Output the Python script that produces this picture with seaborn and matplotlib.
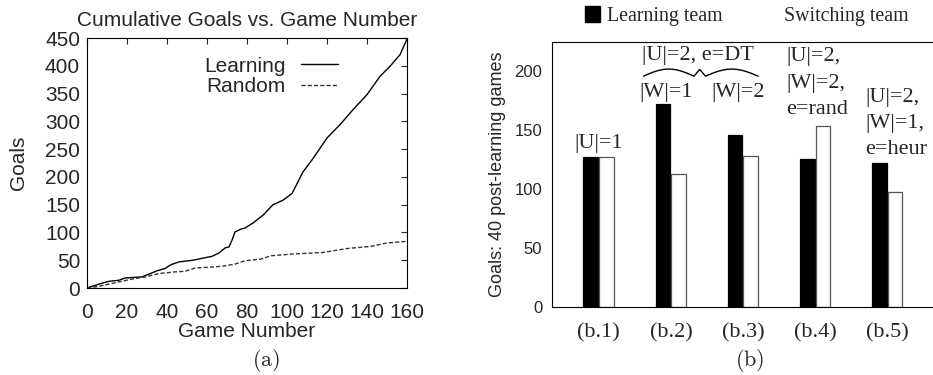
import numpy as np
import pandas as pd
import seaborn as sns
from matplotlib import pyplot as plt
from matplotlib.patches import Patch

# (a) cumulative goals
learn_games = [0, 6, 11, 16, 19, 27.5, 31, 35, 39, 42, 46, 53, 57, 62.5, 66, 69, 71,
               72.5, 74, 77, 79, 83, 88, 93, 98, 102.5, 108, 113, 120, 126.5, 133,
               140, 146.5, 151.5, 156.5, 160]
learn_goals = [0, 7, 12, 14, 18, 20, 25, 31, 35, 42, 47, 50, 53, 57, 63, 72, 74,
               86, 101, 106, 108, 117, 131, 150, 158, 170, 209, 233, 270, 294, 321,
               348, 381, 399, 420, 448]
rand_games = [0, 6, 16, 22.5, 29, 36, 44, 49, 54, 64, 69, 74, 79, 87, 92, 102, 118,
              130, 142, 150, 160]
rand_goals = [0, 3, 11, 16, 20, 26, 29, 30, 36, 38, 40, 43, 49, 52, 58, 61, 64,
              71, 75, 81, 84]

# (b) goals in 40 post-learning games
cases = ['(b.1)', '(b.2)', '(b.3)', '(b.4)', '(b.5)']
learning_team = [127, 172, 146, 126, 122]
switching_team = [127, 113, 128, 154, 98]

sns.set_style('white')
plt.rcParams['font.family'] = ['Liberation Sans', 'DejaVu Sans']
plt.rcParams['mathtext.fontset'] = 'cm'
serif = ['Liberation Serif', 'DejaVu Serif']

fig = plt.figure(figsize=(9.33, 3.75), dpi=100)

# ---- left panel
ax1 = fig.add_axes([87 / 933, 1 - 288 / 375, 320 / 933, 250 / 375])
sns.lineplot(x=learn_games, y=learn_goals, ax=ax1, color='black', lw=1, label='Learning')
sns.lineplot(x=rand_games, y=rand_goals, ax=ax1, color='#333333', lw=1,
             dashes=False, label='Random')
ax1.lines[1].set_linestyle((0, (3, 1.5)))
ax1.set_xlim(0, 160)
ax1.set_ylim(0, 450)
ax1.set_xticks(np.arange(0, 161, 20))
ax1.set_yticks(np.arange(0, 451, 50))
ax1.tick_params(direction='in', length=4, width=0.8, top=True, right=True,
                labelsize=15, pad=5)
ax1.tick_params(axis='x', pad=11)
for s in ax1.spines.values():
    s.set_color('black')
    s.set_linewidth(0.8)
ax1.set_title('Cumulative Goals vs. Game Number', fontsize=15, pad=9)
ax1.set_xlabel('Game Number', fontsize=15, labelpad=0)
ax1.set_ylabel('Goals', fontsize=15)
ax1.yaxis.set_label_coords(-0.185, 0.5)
ax1.legend(loc='upper right', bbox_to_anchor=(0.784, 0.925), frameon=False,
           markerfirst=False, fontsize=15, handlelength=1.75,
           handletextpad=0.75, labelspacing=0.05, borderpad=0, borderaxespad=0)
fig.text(266 / 933, 1 - 361 / 375, r'$\mathrm{(a)}$', fontsize=16,
         ha='center', va='center')

# ---- right panel
df = pd.DataFrame({
    'case': cases * 2,
    'team': ['Learning team'] * len(cases) + ['Switching team'] * len(cases),
    'goals': learning_team + switching_team,
})
ax2 = fig.add_axes([552 / 933, 1 - 307 / 375, 1 - 552 / 933 + 0.001, 265 / 375])
sns.barplot(data=df, x='case', y='goals', hue='team', ax=ax2,
            palette=['black', 'white'], width=0.44, gap=0.06,
            edgecolor='black', linewidth=0.9, saturation=1, legend=False)
for p in ax2.patches[len(cases):]:
    p.set_edgecolor('#555555')
ax2.set_xlim(-0.65, 4.65)
ax2.set_ylim(0, 225)
ax2.set_yticks(np.arange(0, 201, 50))
ax2.spines['right'].set_visible(False)
for s in ax2.spines.values():
    s.set_color('black')
    s.set_linewidth(0.8)
ax2.tick_params(axis='y', direction='in', length=4, width=0.8, labelsize=12, pad=7)
ax2.tick_params(axis='x', length=0, pad=11.5)
for lab in ax2.get_xticklabels():
    lab.set_family(serif)
    lab.set_fontsize(16)
ax2.set_xlabel('')
ax2.set_ylabel('Goals: 40 post-learning games', fontsize=13)
ax2.yaxis.set_label_coords(-0.12, 0.5)

ann = dict(fontsize=16, family=serif, va='baseline')
ax2.text(0, 135, '|U|=1', ha='center', **ann)
ax2.text(1.38, 210, '|U|=2, e=DT', ha='center', **ann)
ax2.text(0.93, 178, '|W|=1', ha='center', **ann)
ax2.text(1.93, 178, '|W|=2', ha='center', **ann)
ax2.text(2.6, 163.5, '|U|=2,\n|W|=2,\ne=rand', ha='left', linespacing=1.55, **ann)
ax2.text(3.7, 129.5, '|U|=2,\n|W|=1,\ne=heur', ha='left', linespacing=1.5, **ann)

# brace over (b.2) and (b.3)
x0, xm, x1, d = 0.62, 1.40, 2.21, 0.08
base, h = 196, 6
t = np.linspace(0, 1, 40)
bx = np.concatenate([x0 + (xm - d - x0) * t, [xm, xm + d], xm + d + (x1 - xm - d) * t])
by = np.concatenate([base + h * np.sin(np.pi * t), [base + h * 0.95, base],
                     base + h * np.sin(np.pi * t)])
ax2.plot(bx, by, color='black', lw=1, clip_on=False)

handles = [Patch(facecolor='black', edgecolor='black'),
           Patch(facecolor='white', edgecolor='white')]
fig.legend(handles, ['Learning team', 'Switching team'], loc='upper left',
           bbox_to_anchor=(585 / 933, 1 - 6 / 375), ncol=2, frameon=False,
           prop={'family': serif, 'size': 14.3}, handlelength=0.75,
           handleheight=0.9, handletextpad=0.35, columnspacing=2.0,
           borderpad=0, borderaxespad=0)
fig.text(750 / 933, 1 - 361 / 375, r'$\mathrm{(b)}$', fontsize=16,
         ha='center', va='center')

fig.savefig('out.png', dpi=100)
